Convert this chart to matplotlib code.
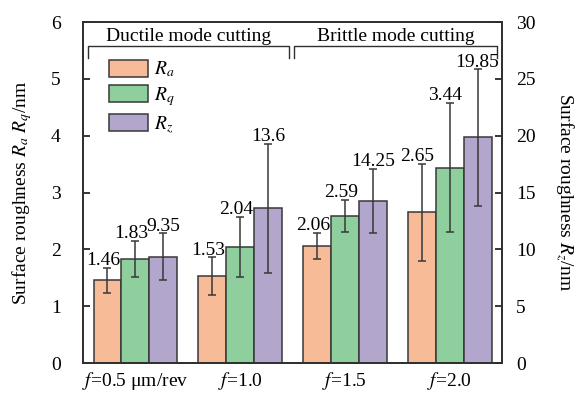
"""
Surface roughness Ra / Rq / Rz for four feed rates, grouped bars with error bars
"""
import matplotlib
matplotlib.use('Agg')
import matplotlib.pyplot as plt
import numpy as np

plt.rcParams['font.family'] = ['Liberation Serif', 'DejaVu Serif']
plt.rcParams['mathtext.fontset'] = 'stix'
plt.rcParams['font.size'] = 14

# data
groups = ['$f$=0.5 μm/rev', '$f$=1.0', '$f$=1.5', '$f$=2.0']
ra = [1.46, 1.53, 2.06, 2.65]
ra_err = [0.22, 0.33, 0.23, 0.86]
rq = [1.83, 2.04, 2.59, 3.44]
rq_err = [0.32, 0.53, 0.28, 1.14]
rz = [9.35, 13.6, 14.25, 19.85]          # right axis
rz_err = [2.07, 5.7, 2.83, 6.0]
ra_labels = ['1.46', '1.53', '2.06', '2.65']
rq_labels = ['1.83', '2.04', '2.59', '3.44']
rz_labels = ['9.35', '13.6', '14.25', '19.85']

c_ra = '#F7BC97'
c_rq = '#8FCF9D'
c_rz = '#B3A6CD'
edge = '#383838'

fig = plt.figure(figsize=(5.81, 3.93), dpi=100)
ax = fig.add_axes([0.143, 0.076, 0.721, 0.868])
ax2 = ax.twinx()

x = np.arange(len(groups))
w = 0.267
ekw = dict(ecolor=edge, elinewidth=1.1, capsize=3, capthick=1.1)

b1 = ax.bar(x - w, ra, w, yerr=ra_err, color=c_ra, edgecolor=edge, linewidth=1.1,
            error_kw=ekw, label='$R_a$', zorder=2)
b2 = ax.bar(x, rq, w, yerr=rq_err, color=c_rq, edgecolor=edge, linewidth=1.1,
            error_kw=ekw, label='$R_q$', zorder=2)
b3 = ax2.bar(x + w, rz, w, yerr=rz_err, color=c_rz, edgecolor=edge, linewidth=1.1,
             error_kw=ekw, label='$R_z$', zorder=2)

# value labels above the error bars
for xi, v, e, t in zip(x - w, ra, ra_err, ra_labels):
    ax.annotate(t, (xi, v + e), xytext=(-3, -1), textcoords='offset points',
                ha='center', va='bottom')
for xi, v, e, t in zip(x, rq, rq_err, rq_labels):
    ax.annotate(t, (xi, v + e), xytext=(-3, -1), textcoords='offset points',
                ha='center', va='bottom')
for xi, v, e, t in zip(x + w, rz, rz_err, rz_labels):
    ax2.annotate(t, (xi, v + e), xytext=(0, -1), textcoords='offset points',
                 ha='center', va='bottom')

ax.set_xlim(-0.5, 3.5)
ax.set_ylim(0, 6)
ax2.set_ylim(0, 30)
ax.set_yticks(range(0, 7))
ax2.set_yticks(range(0, 31, 5))
ax.set_xticks(x)
ax.set_xticklabels(groups)

ax.tick_params(direction='in', length=5, width=1.1)
ax2.tick_params(direction='in', length=5, width=1.1)
ax.tick_params(axis='y', pad=16)
ax2.tick_params(axis='y', pad=10)
ax.tick_params(axis='x', pad=5)
for a in (ax, ax2):
    for s in a.spines.values():
        s.set_linewidth(1.3)
        s.set_color('#303030')

ax.set_ylabel('Surface roughness $R_a$ $R_q$/nm', labelpad=12)
ax2.set_ylabel('Surface roughness $R_z$/nm', rotation=270, labelpad=29)

# mode brackets
def bracket(x0, x1, text):
    ax.plot([x0, x0, x1, x1], [5.37, 5.58, 5.58, 5.37], color='#303030', lw=1.0,
            clip_on=False, zorder=3)
    ax.text((x0 + x1) / 2, 5.59, text, ha='center', va='bottom')

bracket(-0.45, 1.467, 'Ductile mode cutting')
bracket(1.514, 3.457, 'Brittle mode cutting')

ax.legend(handles=[b1, b2, b3], loc='upper left', bbox_to_anchor=(0.062, 0.89),
          frameon=False, borderpad=0, borderaxespad=0, handlelength=2.0,
          handleheight=0.98, labelspacing=0.3, handletextpad=0.3)

fig.savefig('out.png', dpi=100, facecolor='white')
plt.close(fig)
